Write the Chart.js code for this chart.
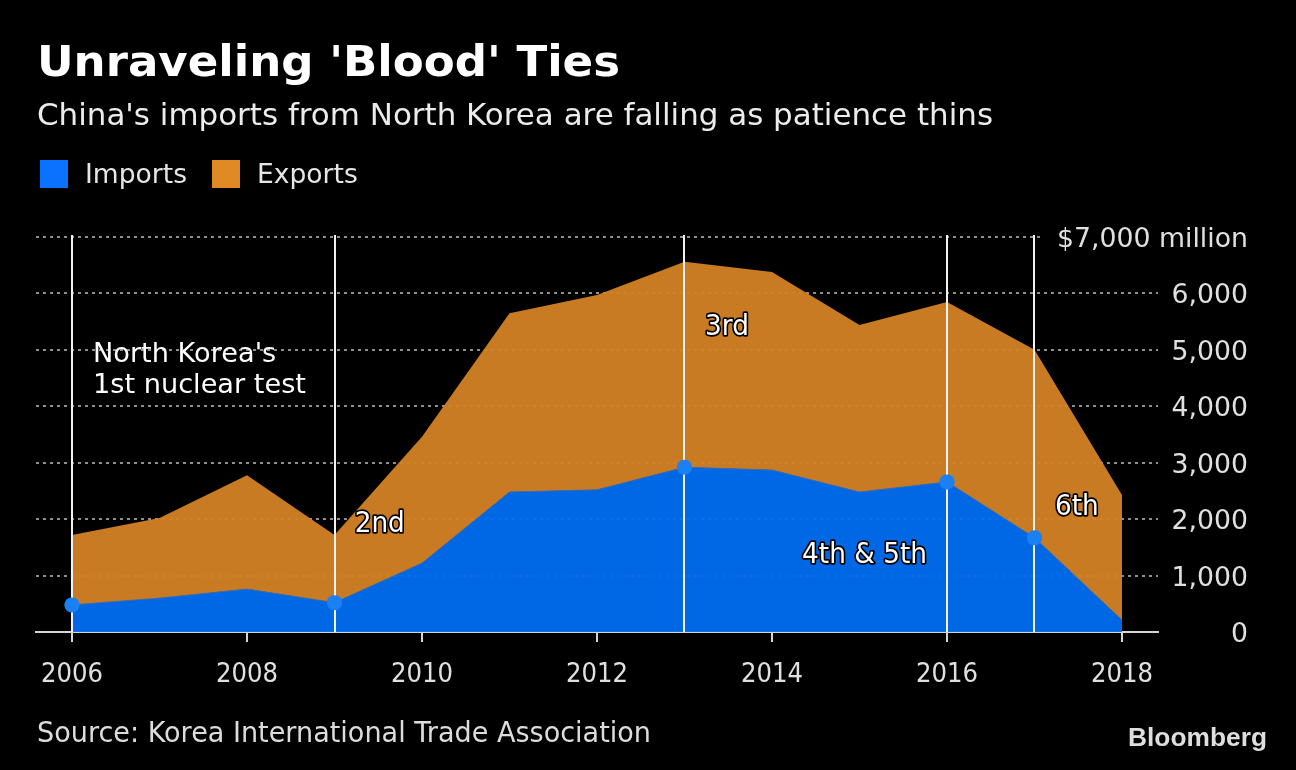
<!DOCTYPE html>
<html>
<head>
<meta charset="utf-8">
<script src="https://cdn.jsdelivr.net/npm/chart.js@4/dist/chart.umd.min.js"></script>
<style>
html,body{margin:0;padding:0;background:#000;}
canvas{display:block;}
</style>
</head>
<body>
<canvas id="c" width="1296" height="770"></canvas>
<script>
// ---- data ----
const years = [2006, 2007, 2008, 2009, 2010, 2011, 2012, 2013, 2014, 2015, 2016, 2017, 2018];
const imports = [480, 600, 760, 520, 1220, 2480, 2520, 2920, 2870, 2480, 2660, 1670, 210];
const exports = [1240, 1420, 2020, 1200, 2240, 3170, 3450, 3640, 3510, 2960, 3190, 3330, 2220];
const testYears = [2006, 2009, 2013, 2016, 2017];
const xTickYears = [2006, 2008, 2010, 2012, 2014, 2016, 2018];
const yTickValues = [0, 1000, 2000, 3000, 4000, 5000, 6000, 7000];
const yTickLabels = ['0', '1,000', '2,000', '3,000', '4,000', '5,000', '6,000', '$7,000 million'];
const seriesNames = ['Imports', 'Exports'];
const titleText = "Unraveling 'Blood' Ties";
const subtitleText = "China's imports from North Korea are falling as patience thins";
const sourceText = 'Source: Korea International Trade Association';
const firstTestLines = ["North Korea's", '1st nuclear test'];
const testLabels = [
  { text: '2nd', year: 2009.23, value: 1772 },
  { text: '3rd', year: 2013.234, value: 5263 },
  { text: '4th & 5th', year: 2014.343, value: 1223 },
  { text: '6th', year: 2017.234, value: 2073 }
];
const firstTestPos = [{ year: 2006.24, value: 4785 }, { year: 2006.24, value: 4235 }];

// ---- styles ----
const BLUE_FILL = 'rgba(0,110,240,0.95)';
const ORANGE_FILL = 'rgba(211,130,37,0.95)';
const BLUE_LEG = '#0a72ff';
const ORANGE_LEG = '#e08a25';
const DOT = '#1a80f4';
const FAM = "'DejaVu Sans', Verdana, sans-serif";

const styles = {
  title: { font: "bold 42px " + FAM, ref: titleText, w: 583, color: '#ffffff' },
  subtitle: { font: "31px " + FAM, ref: subtitleText, w: 956, color: '#ececec' },
  legend: { font: "27px " + FAM, ref: 'Imports', w: 102, color: '#e6e6e6' },
  ytick: { font: "27px " + FAM, ref: '$7,000 million', w: 191, color: '#e0e0e0' },
  xtick: { font: "27px " + FAM, ref: '2006', w: 62, color: '#e0e0e0' },
  note: { font: "27px " + FAM, ref: '1st nuclear test', w: 213, color: '#ffffff' },
  tag: { font: "28px " + FAM, ref: '4th & 5th', w: 125, color: '#ffffff' },
  source: { font: "29px " + FAM, ref: sourceText, w: 614, color: '#dcdcdc' },
  brand: { font: "bold 26px 'Liberation Sans', Arial, sans-serif", ref: 'Bloomberg', w: 139, color: '#dedede' }
};

function sxFor(ctx, st) {
  if (st._sx) return st._sx;
  ctx.save(); ctx.font = st.font;
  const m = ctx.measureText(st.ref).width;
  ctx.restore();
  st._sx = st.w / m;
  return st._sx;
}
function txt(ctx, st, text, x, y, align, outline) {
  const sx = sxFor(ctx, st);
  ctx.save();
  ctx.font = st.font;
  ctx.translate(x, y);
  ctx.scale(sx, 1);
  ctx.textAlign = align || 'left';
  ctx.textBaseline = 'alphabetic';
  if (outline) {
    ctx.lineJoin = 'round';
    ctx.lineWidth = 3.5;
    ctx.strokeStyle = '#000';
    ctx.strokeText(text, 0, 0);
  }
  ctx.fillStyle = st.color;
  ctx.fillText(text, 0, 0);
  ctx.restore();
}
function textWidth(ctx, st, text) {
  ctx.save(); ctx.font = st.font;
  const w = ctx.measureText(text).width * sxFor(ctx, st);
  ctx.restore();
  return w;
}

const decor = {
  id: 'decor',
  beforeDraw(chart) {
    const ctx = chart.ctx;
    ctx.save();
    ctx.fillStyle = '#000';
    ctx.fillRect(0, 0, chart.width, chart.height);
    ctx.restore();
    txt(ctx, styles.title, titleText, 37, 76);
    txt(ctx, styles.subtitle, subtitleText, 37, 125);
    // legend
    ctx.save();
    ctx.fillStyle = BLUE_LEG; ctx.fillRect(40, 160, 28, 28);
    ctx.fillStyle = ORANGE_LEG; ctx.fillRect(212, 160, 28, 28);
    ctx.restore();
    txt(ctx, styles.legend, seriesNames[0], 85, 183);
    txt(ctx, styles.legend, seriesNames[1], 257, 183);
    txt(ctx, styles.source, sourceText, 37, 742);
    txt(ctx, styles.brand, 'Bloomberg', 1128, 746);
  },
  afterDatasetsDraw(chart) {
    const ctx = chart.ctx;
    const xs = chart.scales.x, ys = chart.scales.y;
    const a = chart.chartArea;
    // clear the gridline where the top (unit) label sits
    const topLabelW = textWidth(ctx, styles.ytick, yTickLabels[yTickLabels.length - 1]);
    const topY = ys.getPixelForValue(yTickValues[yTickValues.length - 1]);
    ctx.save();
    ctx.fillStyle = '#000';
    ctx.fillRect(1248 - topLabelW - 14, topY - 4, topLabelW + 20, 8);
    ctx.restore();
    // vertical event lines
    ctx.save();
    ctx.strokeStyle = '#f2f2f2';
    ctx.lineWidth = 2;
    testYears.forEach(yr => {
      const px = Math.round(xs.getPixelForValue(yr));
      ctx.beginPath();
      ctx.moveTo(px, a.top - 2);
      ctx.lineTo(px, a.bottom);
      ctx.stroke();
    });
    ctx.restore();
    // redraw dots on top
    const meta = chart.getDatasetMeta(0);
    meta.data.forEach(p => { if (p.options && p.options.radius > 0) p.draw(ctx, a); });
    // annotations
    firstTestLines.forEach((t, i) => {
      txt(ctx, styles.note, t, xs.getPixelForValue(firstTestPos[i].year), ys.getPixelForValue(firstTestPos[i].value));
    });
    testLabels.forEach(l => {
      txt(ctx, styles.tag, l.text, xs.getPixelForValue(l.year), ys.getPixelForValue(l.value), 'left', true);
    });
  },
  afterDraw(chart) {
    const ctx = chart.ctx;
    const xs = chart.scales.x, ys = chart.scales.y;
    yTickValues.forEach((v, i) => {
      txt(ctx, styles.ytick, yTickLabels[i], 1248, ys.getPixelForValue(v) + 10, 'right');
    });
    xs.ticks.forEach(t => {
      txt(ctx, styles.xtick, String(t.value), xs.getPixelForValue(t.value), 682, 'center');
    });
  }
};

const ctx = document.getElementById('c').getContext('2d');
new Chart(ctx, {
  type: 'line',
  data: {
    datasets: [
      {
        label: seriesNames[0],
        data: years.map((y, i) => ({ x: y, y: imports[i] })),
        fill: 'origin',
        backgroundColor: BLUE_FILL,
        borderColor: '#3c6fb4',
        borderWidth: 1,
        tension: 0,
        pointRadius: c => testYears.includes(years[c.dataIndex]) ? 7.5 : 0,
        pointHoverRadius: c => testYears.includes(years[c.dataIndex]) ? 7.5 : 0,
        pointBackgroundColor: DOT,
        pointBorderWidth: 0,
        stack: 's'
      },
      {
        label: seriesNames[1],
        data: years.map((y, i) => ({ x: y, y: exports[i] })),
        fill: '-1',
        backgroundColor: ORANGE_FILL,
        borderWidth: 0,
        borderColor: 'rgba(0,0,0,0)',
        tension: 0,
        pointRadius: 0,
        pointHoverRadius: 0,
        stack: 's'
      }
    ]
  },
  options: {
    responsive: false,
    animation: false,
    events: [],
    devicePixelRatio: 1,
    layout: { padding: { top: 237, left: 36, right: 0, bottom: 0 } },
    plugins: { legend: { display: false }, tooltip: { enabled: false }, title: { display: false } },
    scales: {
      x: {
        type: 'linear',
        min: 2006 - 36 / 87.5,
        max: 2018 + 36 / 87.5,
        afterBuildTicks: s => { s.ticks = xTickYears.map(v => ({ value: v })); },
        afterFit: s => { s.height = 138; },
        ticks: { display: false, autoSkip: false },
        grid: { drawOnChartArea: false, drawTicks: true, tickLength: 10, color: '#d4d4d4', lineWidth: 2 },
        border: { display: true, color: '#d4d4d4', width: 2 }
      },
      y: {
        type: 'linear',
        position: 'right',
        stacked: true,
        min: 0,
        max: 7000,
        afterBuildTicks: s => { s.ticks = yTickValues.map(v => ({ value: v })); },
        afterFit: s => { s.width = 138; },
        ticks: { display: false },
        grid: {
          drawTicks: false,
          lineWidth: 2,
          color: c => (c.tick && c.tick.value === 0) ? 'rgba(0,0,0,0)' : '#8f8f8f'
        },
        border: { display: false, dash: [3, 4] }
      }
    }
  },
  plugins: [decor]
});
</script>
</body>
</html>
